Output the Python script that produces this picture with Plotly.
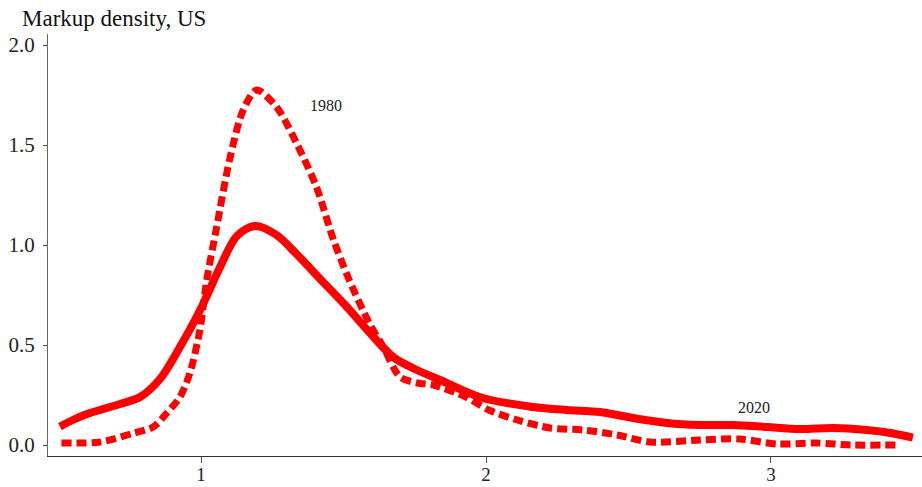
import plotly.graph_objects as go

# Markup values (x) and density (y)
markup_2020 = [0.505, 0.55, 0.60, 0.646, 0.716, 0.786, 0.856, 0.926, 0.997, 1.067, 1.126, 1.19, 1.265, 1.335, 1.418, 1.512, 1.593, 1.674, 1.75, 1.839, 1.989, 2.165, 2.284, 2.40, 2.516, 2.635, 2.75, 2.867, 2.985, 3.10, 3.218, 3.336, 3.42, 3.498]
density_2020 = [0.092, 0.125, 0.155, 0.175, 0.205, 0.24, 0.33, 0.49, 0.675, 0.89, 1.045, 1.095, 1.05, 0.955, 0.83, 0.69, 0.56, 0.44, 0.38, 0.325, 0.235, 0.19, 0.175, 0.165, 0.135, 0.11, 0.10, 0.10, 0.09, 0.08, 0.085, 0.075, 0.06, 0.037]

markup_1980 = [0.51, 0.646, 0.76, 0.832, 0.88, 0.926, 0.961, 0.996, 1.02, 1.055, 1.10, 1.148, 1.195, 1.265, 1.335, 1.405, 1.465, 1.52, 1.59, 1.64, 1.698, 1.76, 1.815, 1.93, 2.01, 2.11, 2.225, 2.34, 2.46, 2.575, 2.75, 2.89, 3.02, 3.16, 3.28, 3.44]
density_1980 = [0.01, 0.015, 0.058, 0.09, 0.16, 0.24, 0.36, 0.575, 0.825, 1.09, 1.425, 1.675, 1.775, 1.69, 1.51, 1.29, 1.025, 0.825, 0.61, 0.49, 0.34, 0.31, 0.30, 0.24, 0.175, 0.125, 0.085, 0.075, 0.05, 0.015, 0.025, 0.03, 0.005, 0.01, 0.0, 0.0]

x_ticks = [1, 2, 3]
y_ticks = [0.0, 0.5, 1.0, 1.5, 2.0]

labels = ["1980", "2020"]
label_x = [1.44, 2.94]
label_y = [1.70, 0.19]

FONT = "Liberation Serif"
RED = "#ff0000"

fig = go.Figure()
fig.add_trace(go.Scatter(x=markup_2020, y=density_2020, mode="lines",
                         line=dict(color=RED, width=8, shape="spline", smoothing=0.9),
                         name="2020", showlegend=False))
fig.add_trace(go.Scatter(x=markup_1980, y=density_1980, mode="lines",
                         line=dict(color=RED, width=7, shape="spline", smoothing=0.8, dash="10px,5px"),
                         name="1980", showlegend=False))

for t, xx, yy in zip(labels, label_x, label_y):
    fig.add_annotation(x=xx, y=yy, text=t, showarrow=False,
                       font=dict(family=FONT, size=16, color="#222222"))

fig.update_layout(
    width=922, height=487,
    margin=dict(l=48, r=0, t=34, b=31, autoexpand=False),
    paper_bgcolor="white", plot_bgcolor="white",
    title=dict(text="Markup density, US", x=22/922, xanchor="left",
               y=1 - 18/487, yanchor="middle", yref="container", xref="container",
               automargin=False,
               font=dict(family=FONT, size=23, color="#111111")),
    font=dict(family=FONT, size=20, color="#222222"),
)
fig.update_xaxes(range=[0.463, 3.53], tickvals=x_ticks, ticktext=[str(v) for v in x_ticks],
                 automargin=False,
                 showgrid=False, zeroline=False, showline=True, linecolor="#333333", linewidth=1,
                 ticks="outside", ticklen=6, tickcolor="#555555", ticklabelstandoff=-5,
                 tickfont=dict(family=FONT, size=19, color="#222222"))
fig.update_yaxes(range=[-0.055, 2.055], tickvals=y_ticks, ticktext=[f"{v:.1f}" for v in y_ticks],
                 automargin=False,
                 showgrid=False, zeroline=False, showline=True, linecolor="#666666", linewidth=1,
                 ticks="outside", ticklen=4, tickcolor="#555555", ticklabelstandoff=4,
                 tickfont=dict(family=FONT, size=21, color="#222222"))

fig.write_html("out.html", config={"displayModeBar": False},
               post_script="document.body.style.margin='0';document.body.style.overflow='hidden';")
